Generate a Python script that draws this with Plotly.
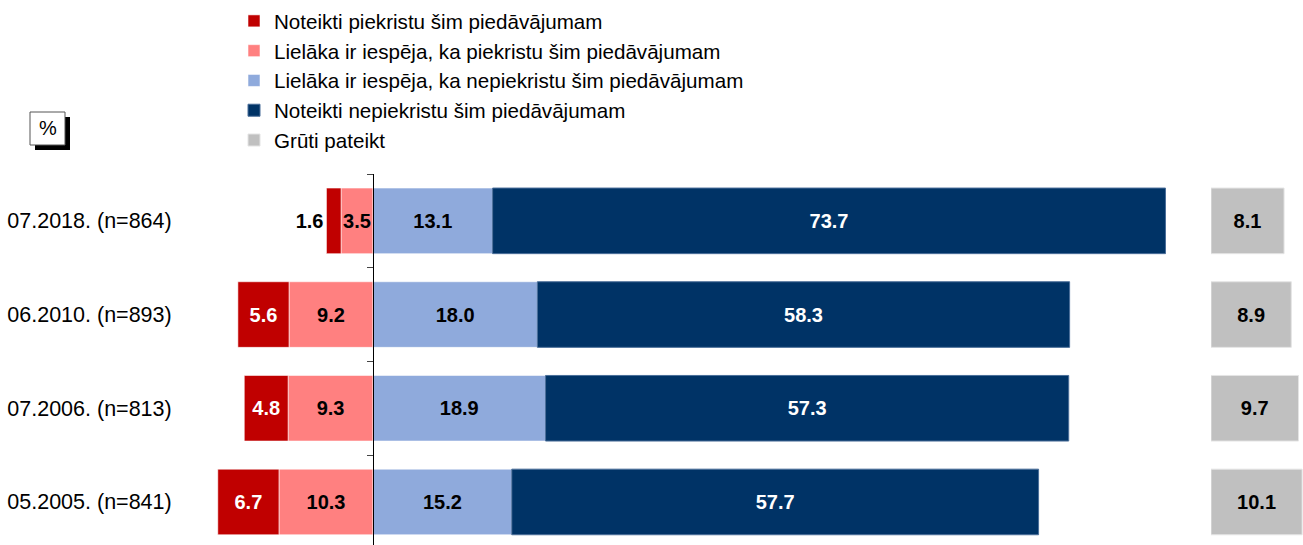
import plotly.graph_objects as go

# survey waves (top to bottom)
categories = ["07.2018. (n=864)", "06.2010. (n=893)", "07.2006. (n=813)", "05.2005. (n=841)"]

series_names = [
    "Noteikti piekristu šim piedāvājumam",
    "Lielāka ir iespēja, ka piekristu šim piedāvājumam",
    "Lielāka ir iespēja, ka nepiekristu šim piedāvājumam",
    "Noteikti nepiekristu šim piedāvājumam",
    "Grūti pateikt",
]

definitely_agree = [1.6, 5.6, 4.8, 6.7]
rather_agree = [3.5, 9.2, 9.3, 10.3]
rather_disagree = [13.1, 18.0, 18.9, 15.2]
definitely_disagree = [73.7, 58.3, 57.3, 57.7]
hard_to_say = [8.1, 8.9, 9.7, 10.1]

colors = ["#C00000", "#FF8080", "#8FAADC", "#003366", "#C0C0C0"]

FONT = "Liberation Sans, Arial, sans-serif"

# geometry in window px (body margin is removed below so figure sits at 0,0)
W, H = 1303, 545
ML, MT = 200, 174
PW, PH = W - ML, H - MT
ZERO_PX = 373
GREY_PX = 1211
PX_PER_UNIT = 9.13


def px_x(px):
    return (px - ML) / PW


def px_y(py):
    return (H - py) / PH


fig = go.Figure()

edge = dict(color="rgba(255,255,255,0.55)", width=1)
common = dict(
    y=categories,
    orientation="h",
    texttemplate="<b>%{text:.1f}</b>",
    constraintext="none",
    textangle=0,
    insidetextanchor="middle",
    cliponaxis=False,
    hoverinfo="skip",
)
NUM = 20

# negative side: first trace sits next to zero
fig.add_trace(go.Bar(
    name=series_names[1], x=[-v for v in rather_agree], text=rather_agree,
    marker=dict(color=colors[1], line=edge), textposition="inside",
    textfont=dict(family=FONT, size=NUM, color="black"), legendrank=2, **common,
))
fig.add_trace(go.Bar(
    name=series_names[0], x=[-v for v in definitely_agree], text=definitely_agree,
    marker=dict(color=colors[0], line=edge), textposition="auto",
    insidetextfont=dict(family=FONT, size=NUM, color="white"),
    outsidetextfont=dict(family=FONT, size=NUM, color="black"),
    legendrank=1, **common,
))
fig.add_trace(go.Bar(
    name=series_names[2], x=rather_disagree, text=rather_disagree,
    marker=dict(color=colors[2], line=edge), textposition="inside",
    textfont=dict(family=FONT, size=NUM, color="black"), legendrank=3, **common,
))
fig.add_trace(go.Bar(
    name=series_names[3], x=definitely_disagree, text=definitely_disagree,
    marker=dict(color=colors[3], line=dict(color="#4A6E99", width=1)), textposition="inside",
    textfont=dict(family=FONT, size=NUM, color="white"), legendrank=4, **common,
))
fig.add_trace(go.Bar(
    name=series_names[4], x=hard_to_say, text=hard_to_say, xaxis="x2",
    marker=dict(color=colors[4], line=dict(color="#E4E4E4", width=1)), textposition="inside",
    textfont=dict(family=FONT, size=NUM, color="black"), legendrank=5, **common,
))

band = 93.7
y_bottom = -0.5 + PH / band

fig.update_layout(
    width=W,
    height=H,
    barmode="relative",
    bargap=0.3,
    plot_bgcolor="white",
    paper_bgcolor="white",
    margin=dict(l=ML, r=0, t=MT, b=0, pad=0, autoexpand=False),
    font=dict(family=FONT, size=21, color="black"),
    showlegend=True,
    legend=dict(
        x=px_x(234), y=px_y(1), xanchor="left", yanchor="top",
        font=dict(family=FONT, size=20.6, color="black"),
        bgcolor="rgba(0,0,0,0)", traceorder="normal",
        itemclick=False, itemdoubleclick=False,
    ),
    xaxis=dict(
        domain=[0, px_x(GREY_PX)],
        range=[-(ZERO_PX - ML) / PX_PER_UNIT, (GREY_PX - ZERO_PX) / PX_PER_UNIT],
        showgrid=False, zeroline=False, showticklabels=False, showline=False,
        fixedrange=True,
    ),
    xaxis2=dict(
        domain=[px_x(GREY_PX), 1],
        range=[0, 10.2],
        anchor="y",
        showgrid=False, zeroline=False, showticklabels=False, showline=False,
        fixedrange=True,
    ),
    yaxis=dict(
        type="category",
        categoryorder="array",
        categoryarray=categories,
        range=[y_bottom, -0.5],
        anchor="free",
        position=px_x(ZERO_PX),
        showline=True, linecolor="black", linewidth=1,
        ticks="outside", tickson="boundaries", ticklen=6, tickcolor="#444444",
        ticklabelstandoff=197,
        tickfont=dict(family=FONT, size=21.5, color="black"),
        showgrid=False, zeroline=False, fixedrange=True,
    ),
    shapes=[
        dict(type="rect", xref="paper", yref="paper",
             x0=px_x(35), x1=px_x(70), y0=px_y(150), y1=px_y(117),
             fillcolor="black", line=dict(width=0), layer="above"),
        dict(type="rect", xref="paper", yref="paper",
             x0=px_x(30), x1=px_x(65), y0=px_y(145), y1=px_y(112),
             fillcolor="white", line=dict(color="#555555", width=1), layer="above"),
    ],
    annotations=[
        dict(text="%", xref="paper", yref="paper", x=px_x(47.5), y=px_y(128.5),
             xanchor="center", yanchor="middle", showarrow=False,
             font=dict(family=FONT, size=20, color="black")),
    ],
)

fig.write_html(
    "out.html",
    config={"displayModeBar": False},
    post_script="document.body.style.margin = '0';",
)
